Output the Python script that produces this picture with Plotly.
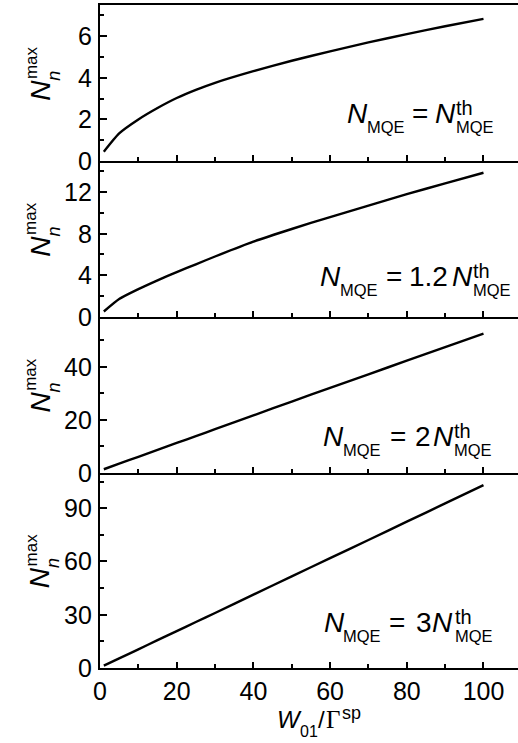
import plotly.graph_objects as go

# ---------------- data ----------------
x_vals = [1, 5, 10, 15, 20, 25, 30, 40, 50, 60, 70, 80, 90, 100]
y_panel1 = [0.45, 1.33, 2.0, 2.55, 3.03, 3.42, 3.76, 4.32, 4.82, 5.27, 5.7, 6.1, 6.48, 6.83]
y_panel2 = [0.5, 1.7, 2.65, 3.5, 4.3, 5.05, 5.8, 7.23, 8.45, 9.6, 10.7, 11.8, 12.85, 13.87]
y_panel3 = [1.3, 3.4, 6.0, 8.6, 11.2, 13.8, 16.4, 21.6, 26.8, 32.0, 37.1, 42.2, 47.3, 52.4]
y_panel4 = [1.3, 5.4, 10.5, 15.7, 20.8, 25.9, 31.0, 41.3, 51.6, 61.9, 72.1, 82.4, 92.7, 103.0]

y_ranges = [[0, 7.5], [0, 15], [0, 58.8], [0, 110]]
y_tickvals = [[0, 2, 4, 6], [0, 4, 8, 12], [0, 20, 40], [0, 30, 60, 90]]
y_ticklabels = [["0", "2", "4", "6"], ["0", "4", "8", "12"], ["0", "20", "40"], ["0", "30", "60", "90"]]
y_minor = [1, 2, 10, 15]
x_range = [0, 109]

factor_labels = ["", "1.2", "2", "3"]

# ---------------- geometry ----------------
W, H = 518, 743
L, R, T, B = 100, 0, 5, 75
PW = W - L - R
PH = H - T - B
BOT = H - B
# panel boundaries in pixels (top to bottom)
bounds = [5, 161, 316.7, 472.7, 668]


def ax(px):
    return (px - L) / PW


def ay(py):
    return (BOT - py) / PH


domains = []
for i in range(4):
    domains.append([ay(bounds[i + 1]), ay(bounds[i])])
domains[0][1] = 1.0
domains[3][0] = 0.0

SANS = "Liberation Sans, Arial, sans-serif"
SERIF = "Liberation Serif, Times New Roman, serif"
TICKSIZE = 25

fig = go.Figure()
ys = [y_panel1, y_panel2, y_panel3, y_panel4]
for i in range(4):
    sfx = "" if i == 0 else str(i + 1)
    fig.add_trace(go.Scatter(x=x_vals, y=ys[i], mode="lines",
                             line=dict(color="black", width=2.4, shape="spline", smoothing=0.6),
                             xaxis="x" + sfx, yaxis="y" + sfx,
                             showlegend=False, hoverinfo="skip"))

layout = dict(width=W, height=H, margin=dict(l=L, r=R, t=T, b=B),
              paper_bgcolor="white", plot_bgcolor="white", showlegend=False,
              font=dict(family=SANS, color="black"))

for i in range(4):
    sfx = "" if i == 0 else str(i + 1)
    layout["xaxis" + sfx] = dict(
        domain=[0, 1], anchor="y" + sfx, range=x_range,
        showline=True, linecolor="black", linewidth=2,
        mirror=(i == 0),
        ticks="inside", ticklen=6, tickwidth=1.5, tickcolor="black",
        dtick=20, tick0=0,
        minor=dict(ticks="inside", ticklen=4, tickwidth=1.5, tickcolor="black", dtick=10),
        showgrid=False, zeroline=False,
        showticklabels=(i == 3),
        tickfont=dict(family=SANS, size=TICKSIZE, color="black"),
    )
    layout["yaxis" + sfx] = dict(
        domain=domains[i], anchor="x" + sfx, range=y_ranges[i],
        showline=True, linecolor="black", linewidth=2,
        ticks="inside", ticklen=7, tickwidth=1.5, tickcolor="black",
        tickmode="array", tickvals=y_tickvals[i],
        minor=dict(ticks="inside", ticklen=4, tickwidth=1.5, tickcolor="black",
                   tickmode="linear", tick0=0, dtick=y_minor[i]),
        showgrid=False, zeroline=False,
        showticklabels=False,
    )

fig.update_layout(**layout)

annotations = []

# y tick labels placed close to the axis, as in the reference
for i in range(4):
    sfx = "" if i == 0 else str(i + 1)
    for v, t in zip(y_tickvals[i], y_ticklabels[i]):
        annotations.append(dict(
            text=t, xref="paper", yref="y" + sfx, x=ax(92.5), y=v,
            xanchor="right", yanchor="middle", showarrow=False, borderpad=0,
            font=dict(family=SANS, size=TICKSIZE, color="black")))


def piece(text, left_px, base_px, size, family=SANS):
    asc = 0.3465 if family == SANS else 0.3375
    annotations.append(dict(
        text=text, xref="paper", yref="paper",
        x=ax(left_px), y=ay(base_px - asc * size),
        xanchor="left", yanchor="middle", showarrow=False,
        borderpad=0, font=dict(family=family, size=size, color="black")))


def rot_piece(text, cx_px, cy_px, size):
    annotations.append(dict(
        text=text, xref="paper", yref="paper",
        x=ax(cx_px), y=ay(cy_px), textangle=-90,
        xanchor="center", yanchor="middle", showarrow=False,
        borderpad=0, font=dict(family=SANS, size=size, color="black")))


# y-axis titles  N_n^max
for i in range(4):
    c = (bounds[i] + bounds[i + 1]) / 2
    rot_piece("<i>N</i>", 50 - 0.3465 * 28, c + 7.5, 28)
    rot_piece("<i>n</i>", 60 - 0.3465 * 18, c - 7, 18)
    rot_piece("max", 37 - 0.3465 * 17, c - 20, 17)

# panel labels  N_MQE = k N_MQE^th
label_pos = [
    # N1, MQE1, '=', factor, N2, th/MQE2, baseline
    (346, 366, 410.5, None, 434, 455, 123),
    (318.5, 338.5, 384.5, 408, 450.5, 471.5, 286.7),
    (321.5, 341.5, 388.5, 413.5, 431.5, 453, 446),
    (322.5, 341.5, 387.5, 414.5, 430.5, 453.5, 632.7),
]
for i, (n1, m1, eq, fk, n2, m2, base) in enumerate(label_pos):
    piece("<i>N</i>", n1, base, 28)
    piece("MQE", m1, base + 9.5, 16.5)
    piece("=", eq, base, 28)
    if fk is not None:
        piece(factor_labels[i], fk, base, 28)
    piece("<i>N</i>", n2, base, 28)
    piece("th", m2, base - 8.5, 20)
    piece("MQE", m2, base + 9.5, 16.5)

# x-axis title  W_01 / Gamma^sp
piece("<i>W</i>", 275.5, 728.3, 24)
piece("01", 299, 737, 16)
piece("/", 317, 728.3, 24)
piece("\u0393", 324.5, 728.3, 25, family=SERIF)
piece("sp", 340.5, 719.5, 18)

fig.update_layout(annotations=annotations)

fig.write_html("out.html")
